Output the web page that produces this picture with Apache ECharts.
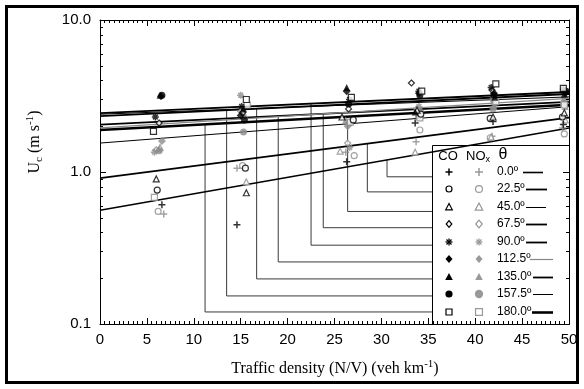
<!DOCTYPE html>
<html>
<head>
<meta charset="utf-8">
<script src="https://cdn.jsdelivr.net/npm/echarts@6/dist/echarts.min.js"></script>
<style>html,body{margin:0;padding:0;background:#fff}#c{width:584px;height:389px}</style>
</head>
<body>
<div id="c"></div>
<script>
// ---- data ----
const angles = ['0.0º','22.5º','45.0º','67.5º','90.0º','112.5º','135.0º','157.5º','180.0º'];
const xTicks = [0,5,10,15,20,25,30,35,40,45,50];
const yTicks = [0.1, 1, 10];
const yMinorTicks = [0.2,0.3,0.4,0.5,0.6,0.7,0.8,0.9,2,3,4,5,6,7,8,9];

// CO observations (x = traffic density, y = Uc) per wind angle
const coX = [
  [6.6, 14.6, 26.3, 33.6, 41.9, 49.4],
  [6.1, 15.5, 27.0, 34.2, 41.6, 49.3],
  [6.0, 15.6, 25.8, 33.8, 41.9, 49.5],
  [6.3, 15.2, 26.5, 33.2, 41.8, 49.6],
  [5.9, 15.1, 26.6, 34.0, 41.7, 49.4],
  [6.5, 15.0, 26.3, 34.0, 42.0, 49.6],
  [6.4, 15.3, 26.3, 33.6, 42.1, 49.5],
  [6.6, 15.4, 26.5, 34.1, 42.0, 49.7],
  [5.7, 15.6, 26.8, 34.3, 42.2, 49.4]
];
const coY = [
  [0.61, 0.45, 1.17, 2.10, 2.15, 2.05],
  [0.76, 1.06, 2.20, 2.40, 2.25, 2.30],
  [0.90, 0.73, 2.30, 2.55, 2.30, 2.45],
  [2.10, 2.45, 2.60, 3.85, 3.45, 3.40],
  [2.30, 2.70, 3.00, 3.40, 3.60, 3.50],
  [3.15, 2.35, 3.40, 3.30, 3.30, 3.30],
  [3.20, 2.60, 3.60, 2.48, 3.10, 3.25],
  [3.20, 2.20, 2.80, 3.20, 3.20, 3.40],
  [1.85, 3.00, 3.10, 3.40, 3.80, 3.55]
];
// NOx observations
const noxX = [
  [6.8, 14.6, 26.2, 33.7, 41.8, 49.3],
  [6.2, 15.2, 27.1, 34.1, 41.6, 49.5],
  [6.4, 15.6, 25.6, 33.6, 41.7, 49.6],
  [6.0, 15.0, 26.4, 33.8, 42.0, 49.4],
  [5.8, 15.0, 26.6, 34.0, 41.9, 49.6],
  [6.6, 15.2, 26.4, 34.2, 42.1, 49.5],
  [6.3, 15.4, 26.2, 33.9, 42.0, 49.6],
  [6.3, 15.3, 26.6, 34.0, 41.9, 49.4],
  [5.8, 15.7, 26.7, 34.1, 42.2, 49.5]
];
const noxY = [
  [0.53, 1.06, 1.35, 1.58, 1.72, 1.95],
  [0.55, 1.10, 1.28, 1.89, 1.68, 1.78],
  [1.45, 0.86, 1.37, 1.35, 1.70, 2.20],
  [1.40, 2.50, 1.55, 2.60, 2.90, 2.90],
  [1.35, 3.20, 1.45, 2.70, 3.00, 2.95],
  [1.60, 2.50, 2.00, 2.50, 2.80, 2.80],
  [1.42, 2.40, 2.20, 2.40, 2.70, 2.70],
  [1.38, 1.83, 2.10, 2.30, 2.60, 2.80],
  [0.68, 2.76, 2.13, 2.27, 2.90, 2.76]
];
// fitted lines: value at x = 0 and at x = 50
const fitX = [0, 50];
const fitStart = [0.56, 0.91, 1.55, 2.05, 2.44, 1.95, 2.33, 2.40, 1.89];
const fitEnd   = [1.95, 2.28, 2.69, 2.89, 3.36, 3.05, 3.26, 3.12, 2.77];
// leader lines from legend to each fitted line
const leaderX     = [30.6, 28.5, 26.4, 23.8, 22.5, 19.0, 16.7, 13.5, 11.2];
const leaderLevel = [0.93, 0.74, 0.55, 0.43, 0.33, 0.256, 0.198, 0.153, 0.12];
const legendEdgeX = 35.4;

// ---- styles ----
const fitColor = ['#000','#000','#000','#000','#000','#888','#000','#000','#000'];
const fitWidth = [1.6, 1.8, 1.0, 1.8, 1.8, 1.2, 1.8, 1.0, 2.6];
const CO_C = '#000', NOX_C = '#8c8c8c';
const PLUS = 'path://M5,0L5,10M0,5L10,5';
const AST = 'path://M5,0L5,10M0,5L10,5M1.6,1.6L8.4,8.4M8.4,1.6L1.6,8.4';
const markers = [
  {sym: PLUS, kind: 'stroke', size: 7},
  {sym: 'circle', kind: 'hollow', size: 6},
  {sym: 'triangle', kind: 'hollow', size: 6},
  {sym: 'diamond', kind: 'hollow', size: 6},
  {sym: AST, kind: 'stroke', size: 7},
  {sym: 'diamond', kind: 'fill', size: 8},
  {sym: 'triangle', kind: 'fill', size: 7},
  {sym: 'circle', kind: 'fill', size: 7},
  {sym: 'rect', kind: 'hollow', size: 6}
];
function itemStyleFor(kind, c) {
  if (kind === 'stroke') return {color: c, borderColor: c, borderWidth: 1.5};
  if (kind === 'hollow') return {color: '#fff', borderColor: c, borderWidth: 1.2};
  return {color: c, borderWidth: 0};
}
function fitAt(i, x) {
  const a = Math.log10(fitStart[i]), b = Math.log10(fitEnd[i]);
  return Math.pow(10, a + (b - a) * (x - fitX[0]) / (fitX[1] - fitX[0]));
}

const series = [];
// fitted lines
angles.forEach((a, i) => {
  series.push({
    type: 'line', name: 'fit' + a, silent: true, symbol: 'none', z: 2,
    data: [[fitX[0], fitStart[i]], [fitX[1], fitEnd[i]]],
    lineStyle: {color: fitColor[i], width: fitWidth[i]}
  });
});
// leaders
angles.forEach((a, i) => {
  series.push({
    type: 'line', silent: true, symbol: 'none', z: 1,
    data: [[legendEdgeX, leaderLevel[i]], [leaderX[i], leaderLevel[i]], [leaderX[i], fitAt(i, leaderX[i])]],
    lineStyle: {color: '#3a3a3a', width: 1}
  });
});
// scatter
angles.forEach((a, i) => {
  const m = markers[i];
  series.push({
    type: 'scatter', name: 'NOx ' + a, z: 3, symbol: m.sym, symbolSize: m.size, symbolKeepAspect: true,
    data: noxX[i].map((x, k) => [x, noxY[i][k]]), itemStyle: itemStyleFor(m.kind, NOX_C)
  });
});
angles.forEach((a, i) => {
  const m = markers[i];
  series.push({
    type: 'scatter', name: 'CO ' + a, z: 4, symbol: m.sym, symbolSize: m.size, symbolKeepAspect: true,
    data: coX[i].map((x, k) => [x, coY[i][k]]), itemStyle: itemStyleFor(m.kind, CO_C)
  });
});
// log minor ticks on left and right axes
series.push({
  type: 'custom', silent: true, z: 5,
  data: yMinorTicks.map(v => [0, v]),
  renderItem: function (params, api) {
    const v = api.value(1);
    const p = api.coord([xTicks[0], v]);
    const q = api.coord([xTicks[xTicks.length - 1], v]);
    const y = Math.round(p[1]) + 0.5;
    return {type: 'group', children: [
      {type: 'line', shape: {x1: p[0], y1: y, x2: p[0] + 3, y2: y}, style: {stroke: '#000', lineWidth: 1}},
      {type: 'line', shape: {x1: q[0] - 3, y1: y, x2: q[0], y2: y}, style: {stroke: '#000', lineWidth: 1}}
    ]};
  }
});

// ---- legend (graphic) ----
const LX = 432, LY = 145, LW = 137, LH = 179;
const rowY = [172, 189, 207, 224, 242, 259, 277, 294, 312];
const lineX1 = [523, 526, 526, 526, 526, 530, 533, 533, 532];
const lineX2 = [543, 547, 546, 547, 547, 553, 553, 553, 553];
function legendSym(i, cx, cy, c, big) {
  const s = big ? 1.15 : 1;
  const els = [];
  const L = (x1, y1, x2, y2, w) => els.push({type: 'line', shape: {x1, y1, x2, y2}, style: {stroke: c, lineWidth: w}});
  switch (i) {
    case 0: L(cx - 3.5*s, cy, cx + 3.5*s, cy, 1.5); L(cx, cy - 3.5*s, cx, cy + 3.5*s, 1.5); break;
    case 1: els.push({type: 'circle', shape: {cx, cy, r: 3*s}, style: {fill: '#fff', stroke: c, lineWidth: 1.2}}); break;
    case 2: els.push({type: 'polygon', shape: {points: [[cx, cy - 3.5*s], [cx + 3.3*s, cy + 2.8*s], [cx - 3.3*s, cy + 2.8*s]]}, style: {fill: '#fff', stroke: c, lineWidth: 1.2}}); break;
    case 3: els.push({type: 'polygon', shape: {points: [[cx, cy - 3.3*s], [cx + 2.8*s, cy], [cx, cy + 3.3*s], [cx - 2.8*s, cy]]}, style: {fill: '#fff', stroke: c, lineWidth: 1.2}}); break;
    case 4: L(cx - 3.5, cy, cx + 3.5, cy, 1.3); L(cx, cy - 3.5, cx, cy + 3.5, 1.3); L(cx - 2.5, cy - 2.5, cx + 2.5, cy + 2.5, 1.3); L(cx + 2.5, cy - 2.5, cx - 2.5, cy + 2.5, 1.3); break;
    case 5: els.push({type: 'polygon', shape: {points: [[cx, cy - 4], [cx + 3.5, cy], [cx, cy + 4], [cx - 3.5, cy]]}, style: {fill: c}}); break;
    case 6: els.push({type: 'polygon', shape: {points: [[cx, cy - 4], [cx + 3.8, cy + 3], [cx - 3.8, cy + 3]]}, style: {fill: c}}); break;
    case 7: els.push({type: 'circle', shape: {cx, cy, r: 3.6*s}, style: {fill: c}}); break;
    case 8: els.push({type: 'rect', shape: {x: cx - 3*s, y: cy - 3*s, width: 6*s, height: 6*s}, style: {fill: '#fff', stroke: c, lineWidth: 1.2}}); break;
  }
  return els;
}
const graphic = [];
graphic.push({type: 'rect', shape: {x: LX + 0.5, y: LY + 0.5, width: LW, height: LH}, style: {fill: '#fff', stroke: '#000', lineWidth: 1}, z: 0});
const txt = (t, x, y, extra) => Object.assign({type: 'text', x, y, style: Object.assign({text: t, fontFamily: 'Liberation Sans', fontSize: 12, fill: '#000', align: 'left', verticalAlign: 'middle'}, extra || {})}, {z: 1});
graphic.push(txt('CO', 448, 156, {align: 'center', fontSize: 13}));
graphic.push(txt('{a|NO}{b|x}', 478, 156, {align: 'center', rich: {a: {fontFamily: 'Liberation Sans', fontSize: 13, lineHeight: 16, verticalAlign: 'middle'}, b: {fontFamily: 'Liberation Sans', fontSize: 9, lineHeight: 16, verticalAlign: 'bottom', padding: [8, 0, 0, 0]}}}));
graphic.push(txt('θ', 503, 155, {align: 'center', fontSize: 16}));
angles.forEach((a, i) => {
  legendSym(i, 449, rowY[i], CO_C, false).forEach(e => { e.z = 1; graphic.push(e); });
  legendSym(i, 479, rowY[i], '#999', true).forEach(e => { e.z = 1; graphic.push(e); });
  graphic.push(txt(a, 497, rowY[i]));
  graphic.push({type: 'line', z: 1, shape: {x1: lineX1[i], y1: rowY[i] + 0.5, x2: lineX2[i], y2: rowY[i] + 0.5}, style: {stroke: fitColor[i], lineWidth: fitWidth[i]}});
});
// axis titles
graphic.push({type: 'text', x: 35, y: 142, rotation: Math.PI / 2, z: 1, style: {
  text: '{a|U}{b|c}{a| (m s}{c|-1}{a|)}', align: 'center', verticalAlign: 'middle',
  rich: {
    a: {fontFamily: 'Liberation Serif', fontSize: 16, lineHeight: 20, verticalAlign: 'middle', fill: '#000'},
    b: {fontFamily: 'Liberation Serif', fontSize: 11, lineHeight: 20, verticalAlign: 'bottom', padding: [10, 0, 0, 0], fill: '#000'},
    c: {fontFamily: 'Liberation Serif', fontSize: 11, lineHeight: 20, verticalAlign: 'top', padding: [0, 0, 6, 0], fill: '#000'}
  }}});
graphic.push({type: 'text', x: 335, y: 369, z: 1, style: {
  text: '{a|Traffic density (N/V) (veh km}{c|-1}{a|)}', align: 'center', verticalAlign: 'middle',
  rich: {
    a: {fontFamily: 'Liberation Serif', fontSize: 16, lineHeight: 20, verticalAlign: 'middle', fill: '#000'},
    c: {fontFamily: 'Liberation Serif', fontSize: 11, lineHeight: 20, verticalAlign: 'top', padding: [0, 0, 6, 0], fill: '#000'}
  }}});
// outer frame
graphic.push({type: 'rect', z: 10, shape: {x: 6.5, y: 6.5, width: 571, height: 376}, style: {fill: 'none', stroke: '#000', lineWidth: 3}});

const axisCommon = {
  axisLine: {show: true, onZero: false, lineStyle: {color: '#000', width: 1}},
  splitLine: {show: false}
};
const chart = echarts.init(document.getElementById('c'), null, {renderer: 'canvas'});
chart.setOption({
  animation: false,
  backgroundColor: '#fff',
  grid: {left: 100, right: 15, top: 20, bottom: 65},
  xAxis: [
    Object.assign({type: 'value', min: xTicks[0], max: xTicks[xTicks.length - 1], interval: 5, position: 'bottom',
      axisTick: {inside: true, length: 6, lineStyle: {color: '#000'}},
      minorTick: {show: true, splitNumber: 10, length: 3, lineStyle: {color: '#000'}},
      axisLabel: {fontFamily: 'Liberation Sans', fontSize: 15, color: '#000', margin: 8}}, axisCommon),
    Object.assign({type: 'value', min: xTicks[0], max: xTicks[xTicks.length - 1], interval: 5, position: 'top',
      axisTick: {inside: true, length: 6, lineStyle: {color: '#000'}},
      minorTick: {show: true, splitNumber: 10, length: 3, lineStyle: {color: '#000'}},
      axisLabel: {show: false}}, axisCommon)
  ],
  yAxis: [
    Object.assign({type: 'log', logBase: 10, min: yTicks[0], max: yTicks[yTicks.length - 1], position: 'left',
      axisTick: {inside: true, length: 6, lineStyle: {color: '#000'}},
      axisLabel: {fontFamily: 'Liberation Sans', fontSize: 15, color: '#000', margin: 9, formatter: v => Number(v).toFixed(1)}}, axisCommon),
    Object.assign({type: 'log', logBase: 10, min: yTicks[0], max: yTicks[yTicks.length - 1], position: 'right',
      axisTick: {inside: true, length: 6, lineStyle: {color: '#000'}},
      axisLabel: {show: false}}, axisCommon)
  ],
  graphic: graphic,
  series: series
});
</script>
</body>
</html>
